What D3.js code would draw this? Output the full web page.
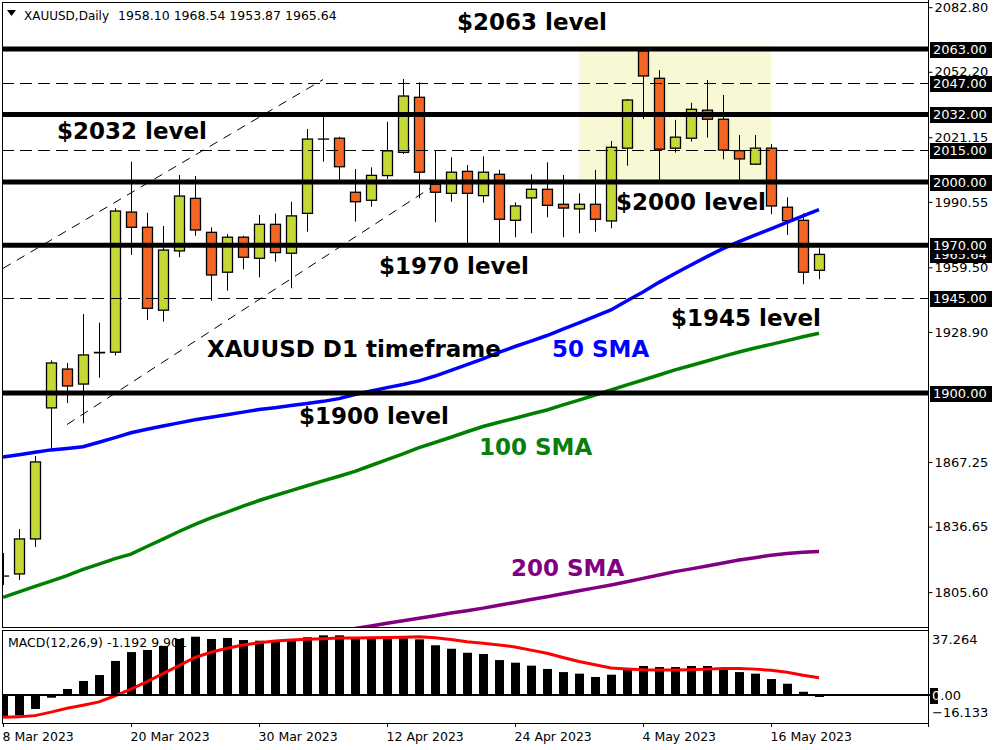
<!DOCTYPE html>
<html><head><meta charset="utf-8">
<script src="https://cdn.jsdelivr.net/npm/d3@7"></script>
<style>body{margin:0;background:#fff}svg{display:block}</style>
</head><body><svg id="c" width="1000" height="750"></svg>
<script>
// ---------------- DATA ----------------
const dates = ["8 Mar","9 Mar","10 Mar","13 Mar","14 Mar","15 Mar","16 Mar","17 Mar",
  "20 Mar","21 Mar","22 Mar","23 Mar","24 Mar","27 Mar","28 Mar","29 Mar",
  "30 Mar","31 Mar","3 Apr","4 Apr","5 Apr","6 Apr","10 Apr","11 Apr",
  "12 Apr","13 Apr","14 Apr","17 Apr","18 Apr","19 Apr","20 Apr","21 Apr",
  "24 Apr","25 Apr","26 Apr","27 Apr","28 Apr","1 May","2 May","3 May",
  "4 May","5 May","8 May","9 May","10 May","11 May","12 May","15 May",
  "16 May","17 May","18 May","19 May"];
const openP  = [1813.2,1814.2,1830.8,1892.9,1911.3,1904.2,1919.2,1919.3,1985.7,1978.5,1939.2,1967.3,1992.2,1976.1,1957.2,1973.8,
  1963.8,1979.9,1966.2,1985.1,2020.3,2020.7,1995.1,1991.3,2003.0,2014.0,2040.1,1998.9,1994.6,2005.0,1993.5,2003.6,
  1981.8,1992.4,1996.5,1989.4,1987.2,1989.4,1981.5,2016.0,2062.1,2049.1,2016.0,2020.7,2034.0,2029.7,2014.8,2008.4,
  2016.0,1988.0,1981.8,1958.10];
const highP  = [1824.1,1835.5,1870.1,1915.4,1914.2,1937.4,1933.3,1987.5,2009.6,1985.4,1979.1,2003.3,2002.8,1978.5,1975.2,1974.4,
  1984.3,1985.0,1990.6,2025.1,2031.0,2021.4,2006.1,2006.9,2028.5,2048.8,2047.2,2015.1,2011.7,2008.0,2012.1,2005.7,
  1990.3,2003.6,2009.3,2003.3,1994.6,2005.7,2019.4,2039.3,2063.5,2053.0,2029.4,2037.5,2048.3,2041.2,2022.2,2022.2,
  2018.0,1992.7,1985.1,1968.54];
const lowP   = [1809.0,1811.3,1827.0,1873.0,1895.2,1885.6,1907.2,1917.7,1965.4,1934.6,1933.8,1964.3,1974.5,1943.7,1948.5,1958.6,
  1954.8,1962.2,1949.6,1976.4,2009.6,2000.9,1981.2,1988.3,2001.4,2013.2,1992.2,1980.9,1990.6,1970.9,1990.2,1971.2,
  1973.8,1975.7,1983.2,1973.8,1975.7,1976.4,1978.0,2007.7,2029.8,2000.9,2013.9,2019.1,2021.0,2010.7,2000.9,2008.0,
  1984.7,1974.9,1951.5,1953.87];
const closeP = [1813.2,1830.8,1867.3,1914.2,1903.3,1918.0,1919.0,1986.2,1978.5,1940.1,1967.7,1993.3,1977.2,1955.9,1973.8,1964.3,
  1979.9,1966.5,1983.9,2020.3,2020.3,2007.2,1990.6,2003.1,2014.7,2040.7,2004.6,1995.1,2004.6,1994.6,2004.6,1982.3,
  1988.6,1996.5,1988.9,1987.6,1989.4,1982.3,2016.4,2038.8,2050.2,2015.5,2021.2,2034.4,2029.7,2015.1,2010.9,2016.0,
  1988.6,1981.6,1957.2,1965.64];
const sma50  = [1869.6,1870.7,1871.9,1873.0,1873.7,1874.5,1876.6,1878.8,1881.1,1882.8,1884.3,1885.8,1887.3,1888.5,1889.7,1890.9,
  1892.1,1893.0,1894.0,1895.0,1896.0,1897.3,1899.2,1900.9,1902.5,1904.0,1905.7,1908.0,1910.7,1913.4,1916.1,1919.2,
  1922.0,1924.5,1927.2,1930.2,1933.2,1936.3,1939.3,1943.7,1947.8,1952.4,1956.6,1960.6,1964.6,1968.4,1971.7,1974.8,
  1977.8,1980.8,1983.9,1986.9];
const sma100 = [1803.1,1805.7,1808.3,1810.8,1813.4,1816.4,1818.9,1821.5,1823.6,1827.2,1830.7,1834.3,1837.7,1840.8,1843.5,1846.3,
  1849.0,1851.4,1853.7,1856.0,1858.3,1860.5,1862.8,1865.6,1868.4,1871.1,1874.1,1876.5,1879.0,1881.6,1884.1,1886.1,
  1888.0,1890.0,1891.9,1894.3,1896.6,1899.0,1901.4,1903.8,1906.1,1908.5,1910.9,1913.0,1915.1,1917.3,1919.4,1921.3,
  1923.0,1924.8,1926.6,1928.3];
const sma200 = [null,null,null,null,null,null,null,null,null,null,null,null,null,null,null,null,
  null,null,null,null,null,1787.1,1788.3,1789.5,1790.8,1792.0,1793.2,1794.4,1795.7,1796.8,1798.0,1799.4,
  1800.7,1802.1,1803.4,1804.8,1806.2,1807.6,1809.0,1810.5,1812.1,1813.7,1815.3,1816.6,1818.0,1819.4,1820.8,1821.9,
  1823.1,1823.9,1824.5,1824.8];
const macdHist = [-12.5,-11.8,-8.1,-1.6,3.4,8.0,11.4,19.5,24.6,25.8,28.1,32.1,33.4,32.1,32.7,31.5,
  31.1,30.4,31.1,33.1,34.2,34.2,32.5,32.3,32.3,32.5,31.9,28.5,26.5,24.2,23.5,20.0,
  18.5,16.8,14.9,13.1,12.2,10.3,11.6,14.3,16.6,16.0,16.0,16.6,16.6,14.7,13.1,12.2,
  9.1,6.4,1.8,-1.192];
const macdSignal = [-12.9,-12.5,-11.9,-9.9,-7.7,-5.9,-4.0,-0.5,3.3,7.6,12.2,16.8,21.5,24.5,26.8,28.6,
  29.9,30.9,31.5,32.0,32.3,32.6,32.7,32.8,33.0,33.1,33.4,32.8,31.8,30.5,29.6,28.7,
  27.5,25.7,23.9,21.5,19.2,17.3,15.5,14.9,14.4,14.3,14.3,14.5,14.8,15.2,15.1,14.8,
  14.1,13.0,11.3,9.901];
const priceTicks = [2082.80,2052.20,2021.15,1990.55,1959.50,1928.90,1867.25,1836.65,1805.60];
const solidLevels = [2063,2032,2000,1970,1900];
const dashedLevels = [2047,2015,1945];
const boxLabels = [2063,2047,2032,2015,2000,1965.64,1970,1945,1900];
const macdTicks = [37.264,0.00,-16.133];
const dateTickIdx = [0,8,16,24,32,40,48];
const dateTickLabels = ["8 Mar 2023","20 Mar 2023","30 Mar 2023","12 Apr 2023","24 Apr 2023","4 May 2023","16 May 2023"];
const zoneIdx = [36,48];            // bar indices of the highlighted box
const zonePrice = [2064.5,2001.2];  // top / bottom price
const trendUpper = [[0,1959.0],[20,2048.5]];
const trendLower = [[4,1885.0],[27.2,1999.5]];
const annotations = [
  {t:"$2063 level", i:28.4, p:2050.5+15, c:"#000"},
];
const headerText = "XAUUSD,Daily";
const headerVals = "1958.10 1968.54 1953.87 1965.64";
const macdHeader = "MACD(12,26,9) -1.192 9.901";

// ---------------- LAYOUT ----------------
const svg = d3.select("#c");
const L = 2, R = 928, T = 2, B = 627, MT = 630, MB = 723;
const x = d3.scaleLinear().domain([0, 51]).range([3, 819]);
const y = d3.scaleLinear().domain([1805.6, 2082.8]).range([592.1, 7.2]);
const ym = d3.scaleLinear().domain([-16.133, 37.264]).range([MB, MT]);
const BULL = "#c5d936", BEAR = "#f26522";

svg.append("rect").attr("width",1000).attr("height",750).attr("fill","#fff");
const defs = svg.append("defs");
defs.append("clipPath").attr("id","cm").append("rect").attr("x",L).attr("y",T).attr("width",R-L).attr("height",B-T);
defs.append("clipPath").attr("id","cd").append("rect").attr("x",L).attr("y",MT).attr("width",R-L).attr("height",MB-MT);

const gm = svg.append("g").attr("clip-path","url(#cm)");

// highlighted zone
gm.append("rect")
  .attr("x", x(zoneIdx[0])).attr("width", x(zoneIdx[1]) - x(zoneIdx[0]))
  .attr("y", y(zonePrice[0])).attr("height", y(zonePrice[1]) - y(zonePrice[0]))
  .attr("fill", "#f8f8d4");

// trend channel lines
[trendUpper, trendLower].forEach(tl => {
  gm.append("line").attr("x1", x(tl[0][0])).attr("y1", y(tl[0][1]))
    .attr("x2", x(tl[1][0])).attr("y2", y(tl[1][1]))
    .attr("stroke","#000").attr("stroke-width",1).attr("stroke-dasharray","9,7");
});

// candles
const idx = d3.range(dates.length);
gm.append("g").selectAll("line").data(idx).join("line")
  .attr("x1", i => Math.round(x(i)) + 0.5).attr("x2", i => Math.round(x(i)) + 0.5)
  .attr("y1", i => y(highP[i])).attr("y2", i => y(lowP[i]))
  .attr("stroke","#000").attr("stroke-width",1);
gm.append("g").selectAll("rect").data(idx).join("rect")
  .attr("x", i => Math.round(x(i)) - 4.5).attr("width", 10)
  .attr("y", i => y(Math.max(openP[i], closeP[i])))
  .attr("height", i => Math.max(0.01, y(Math.min(openP[i], closeP[i])) - y(Math.max(openP[i], closeP[i]))))
  .attr("fill", i => closeP[i] >= openP[i] ? BULL : BEAR)
  .attr("stroke","#000").attr("stroke-width",1.3);

// moving averages
const mkLine = arr => d3.line().defined(i => arr[i] != null).x(i => x(i)).y(i => y(arr[i]))(idx);
gm.append("path").attr("d", mkLine(sma200)).attr("fill","none").attr("stroke","#800080").attr("stroke-width",3.5);
gm.append("path").attr("d", mkLine(sma100)).attr("fill","none").attr("stroke","#008000").attr("stroke-width",3.5);
gm.append("path").attr("d", mkLine(sma50)).attr("fill","none").attr("stroke","#0000ff").attr("stroke-width",3.5);

// level lines
gm.selectAll("line.sl").data(solidLevels).join("line").attr("class","sl")
  .attr("x1", L).attr("x2", R).attr("y1", d => y(d)).attr("y2", d => y(d))
  .attr("stroke","#000").attr("stroke-width",5);
gm.selectAll("line.dl").data(dashedLevels).join("line").attr("class","dl")
  .attr("x1", L).attr("x2", R).attr("y1", d => Math.round(y(d)) + 0.5).attr("y2", d => Math.round(y(d)) + 0.5)
  .attr("stroke","#000").attr("stroke-width",1).attr("stroke-dasharray","12,6");

// annotation texts
const big = [
  ["$2063 level", 457, 22, "#000"],
  ["$2032 level", 57, 131, "#000"],
  ["$2000 level", 616, 202, "#000"],
  ["$1970 level", 379, 266, "#000"],
  ["$1945 level", 671, 318, "#000"],
  ["XAUUSD D1 timeframe", 207, 349, "#000"],
  ["50 SMA", 552, 349, "#0000ff"],
  ["$1900 level", 299, 416, "#000"],
  ["100 SMA", 479, 447, "#0a7d0a"],
  ["200 SMA", 511, 568, "#800080"]
];
svg.append("g").selectAll("text").data(big).join("text")
  .attr("x", d => d[1]).attr("y", d => d[2] + 8.3)
  .attr("fill", d => d[3])
  .attr("font-family","DejaVu Sans").attr("font-weight","bold").attr("font-size",23)
  .text(d => d[0]);

// header
svg.append("path").attr("d","M7,10 L16,10 L11.5,16 Z").attr("fill","#000");
svg.append("text").attr("x",24).attr("y",20).attr("font-family","DejaVu Sans").attr("font-size",12).text(headerText);
svg.append("text").attr("x",118).attr("y",20).attr("font-family","DejaVu Sans").attr("font-size",12.5).text(headerVals);

// frames
svg.append("rect").attr("x",L+0.5).attr("y",T+0.5).attr("width",R-L).attr("height",B-T).attr("fill","none").attr("stroke","#000");
svg.append("rect").attr("x",L+0.5).attr("y",MT+0.5).attr("width",R-L).attr("height",MB-MT).attr("fill","none").attr("stroke","#000");

// price axis
const ax = d3.axisRight(y).tickValues(priceTicks).tickFormat(d3.format(".2f")).tickSize(4).tickPadding(2);
const ga = svg.append("g").attr("transform",`translate(${R + 0.5},0)`).call(ax);
ga.select(".domain").remove();
ga.selectAll("text").attr("font-family","DejaVu Sans").attr("font-size",13).attr("fill","#000");
ga.selectAll("line").attr("stroke","#000");

// boxed level labels
const gb = svg.append("g");
boxLabels.forEach(p => {
  const yy = Math.round(y(p));
  gb.append("rect").attr("x",930).attr("y",yy - 7).attr("width",62).attr("height",16).attr("fill","#000");
  gb.append("text").attr("x",933).attr("y",yy + 1).attr("dominant-baseline","middle")
    .attr("font-family","DejaVu Sans").attr("font-size",13).attr("fill","#fff").text(d3.format(".2f")(p));
});

// MACD
const gd = svg.append("g").attr("clip-path","url(#cd)");
gd.selectAll("rect").data(idx).join("rect")
  .attr("x", i => Math.round(x(i)) - 4).attr("width", 9)
  .attr("y", i => Math.min(ym(macdHist[i]), ym(0)))
  .attr("height", i => Math.abs(ym(macdHist[i]) - ym(0)))
  .attr("fill","#000");
svg.append("line").attr("x1",L).attr("x2",931).attr("y1",ym(0)).attr("y2",ym(0)).attr("stroke","#000").attr("stroke-width",2);
gd.append("path").attr("d", d3.line().x(i => x(i)).y(i => ym(macdSignal[i]))(idx))
  .attr("fill","none").attr("stroke","#ff0000").attr("stroke-width",3);
svg.append("text").attr("x",8).attr("y",647).attr("font-family","DejaVu Sans").attr("font-size",12.5).text(macdHeader);

// MACD axis labels
const macdLabelY = [640, 696, 713];
svg.append("rect").attr("x",930).attr("y",688).attr("width",8).attr("height",16).attr("fill","#000");
macdTicks.forEach((v, k) => {
  const t = svg.append("text").attr("x",932).attr("y",macdLabelY[k]).attr("dominant-baseline","middle")
    .attr("font-family","DejaVu Sans").attr("font-size",13).attr("fill","#000");
  if (v === 0) {
    t.append("tspan").attr("fill","#fff").text("0");
    t.append("tspan").text(".00");
  } else t.text(d3.format(".3f")(v));
});
svg.append("line").attr("x1",R+0.5).attr("x2",R+0.5).attr("y1",0).attr("y2",727).attr("stroke","#000");

// date axis
const gx = svg.append("g");
dateTickIdx.forEach((i, k) => {
  const xx = Math.round(x(i)) + 0.5;
  gx.append("line").attr("x1",xx).attr("x2",xx).attr("y1",MB).attr("y2",MB+4).attr("stroke","#000");
  gx.append("text").attr("x",xx - 1).attr("y",741).attr("font-family","DejaVu Sans").attr("font-size",12.5).text(dateTickLabels[k]);
});
</script></body></html>
